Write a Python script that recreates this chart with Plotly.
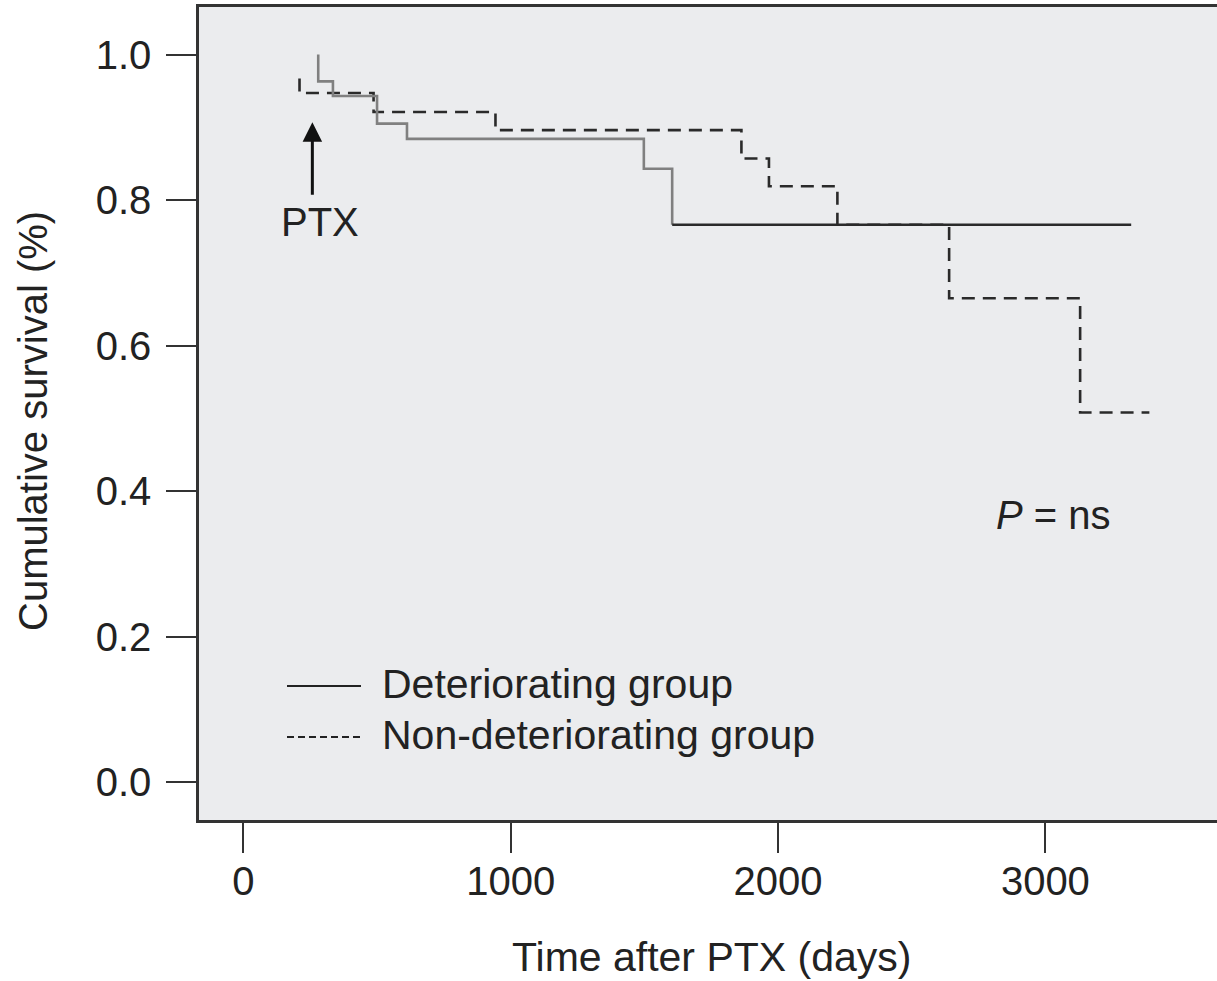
import plotly.graph_objects as go

# Kaplan-Meier step curves (time in days after PTX, cumulative survival)
det_time = [280, 280, 335, 500, 612, 1498, 1604, 3321]
det_surv = [1.000, 0.963, 0.943, 0.905, 0.884, 0.843, 0.766, 0.766]

non_time = [210, 210, 487, 943, 1863, 1966, 2222, 2640, 3130, 3389]
non_surv = [0.967, 0.947, 0.921, 0.896, 0.857, 0.819, 0.766, 0.665, 0.508, 0.508]

x_ticks = [0, 1000, 2000, 3000]
y_ticks = [0.0, 0.2, 0.4, 0.6, 0.8, 1.0]
y_tick_text = ["0.0", "0.2", "0.4", "0.6", "0.8", "1.0"]

legend_labels = ["Deteriorating group", "Non-deteriorating group"]

FONT = "Liberation Sans, Arial, sans-serif"
INK = "#222222"
W, H = 1217, 981
ML, MR, MT, MB = 199, 0, 7, 161


def px_x(p):
    return (p - ML) / (W - ML - MR)


def px_y(p):
    return 1 - (p - MT) / (H - MT - MB)


fig = go.Figure()

# dashed curve
fig.add_trace(go.Scatter(
    x=non_time, y=non_surv, mode="lines", line_shape="hv",
    line=dict(color="#2a2a2a", width=2.6, dash="13px,8px"),
    showlegend=False, hoverinfo="skip"))

# solid curve: early steps in grey, final plateau in black
split = 6
fig.add_trace(go.Scatter(
    x=det_time[:split + 1], y=det_surv[:split + 1], mode="lines", line_shape="hv",
    line=dict(color="#808080", width=2.6),
    showlegend=False, hoverinfo="skip"))
fig.add_trace(go.Scatter(
    x=det_time[split:], y=det_surv[split:], mode="lines", line_shape="hv",
    line=dict(color="#2a2a2a", width=2.4),
    showlegend=False, hoverinfo="skip"))

annotations = [
    # PTX arrow
    dict(x=258, y=0.907, ax=258, ay=0.805, xref="x", yref="y", axref="x", ayref="y",
         showarrow=True, arrowhead=2, arrowsize=1.3, arrowwidth=3, arrowcolor="#111",
         text=""),
    dict(x=285, y=0.770, xref="x", yref="y", text="PTX", showarrow=False,
         xanchor="center", yanchor="middle",
         font=dict(family=FONT, size=40, color=INK)),
    dict(x=3032, y=0.367, xref="x", yref="y", text="<i>P</i> = ns", showarrow=False,
         xanchor="center", yanchor="middle",
         font=dict(family=FONT, size=40, color=INK)),
    # axis titles
    dict(x=px_x(711), y=px_y(957), xref="paper", yref="paper",
         xanchor="center", yanchor="middle",
         text="Time after PTX (days)", showarrow=False,
         font=dict(family=FONT, size=41, color=INK)),
    dict(x=px_x(33), y=px_y(421), xref="paper", yref="paper",
         xanchor="center", yanchor="middle",
         text="Cumulative survival (%)", showarrow=False, textangle=-90,
         font=dict(family=FONT, size=40, color=INK)),
]

# legend drawn inside the panel
legend_rows = [686, 737]
legend_dash = ["solid", "7px,4px"]
shapes = []
for label, row, dash in zip(legend_labels, legend_rows, legend_dash):
    shapes.append(dict(type="line", xref="paper", yref="paper",
                       x0=px_x(287), x1=px_x(361), y0=px_y(row), y1=px_y(row),
                       line=dict(color="#222", width=2.2, dash=dash)))
    annotations.append(dict(x=px_x(380), y=px_y(row - 2), xref="paper", yref="paper",
                            xanchor="left", yanchor="middle", text=label,
                            showarrow=False,
                            font=dict(family=FONT, size=41, color=INK)))

fig.update_layout(
    width=W, height=H,
    margin=dict(l=ML, r=MR, t=MT, b=MB, pad=0),
    paper_bgcolor="white",
    plot_bgcolor="#EBECEE",
    font=dict(family=FONT, size=40, color=INK),
    annotations=annotations,
    shapes=shapes,
    showlegend=False,
)

fig.update_xaxes(
    range=[-166, 3642], tickvals=x_ticks, ticks="outside", ticklen=30, tickwidth=2,
    tickcolor="#333", showgrid=False, zeroline=False, showline=True, mirror=True,
    linecolor="#333", linewidth=2.5, ticklabelstandoff=-6,
    tickfont=dict(family=FONT, size=40, color=INK))
fig.update_yaxes(
    range=[-0.0522, 1.0653], tickvals=y_ticks, ticktext=y_tick_text, ticks="outside",
    ticklen=30, tickwidth=2, tickcolor="#333", showgrid=False, zeroline=False,
    showline=True, linecolor="#333", linewidth=2.5, ticklabelstandoff=7,
    tickfont=dict(family=FONT, size=40, color=INK))

fig.write_html("out.html")
